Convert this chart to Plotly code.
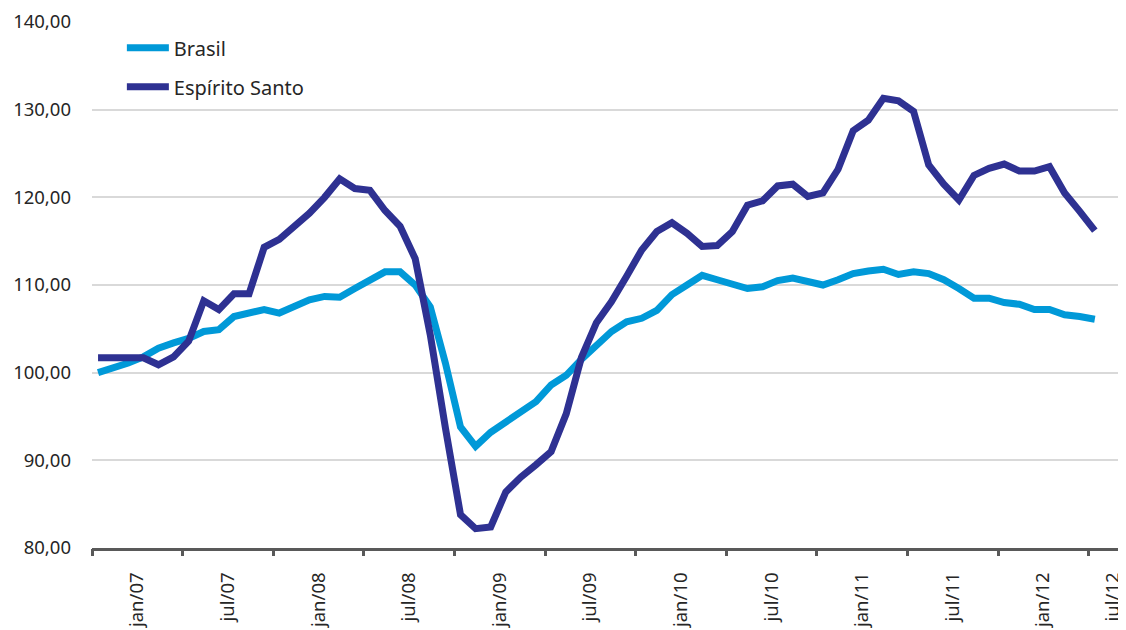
"""Brasil x Espírito Santo (Plotly line chart)."""

import plotly.graph_objects as go


BRASIL = [
    100.0, 100.5, 101.1, 101.8, 102.8, 103.4, 103.9, 104.7, 104.9, 106.4,
    106.8, 107.2, 106.8, 107.5, 108.3, 108.7, 108.6, 109.6, 110.6, 111.5,
    111.5, 110.0, 107.5, 101.1, 93.8, 91.6, 93.2, 94.4, 95.4, 96.7,
    98.6, 99.7, 101.5, 103.0, 104.7, 105.8, 106.2, 107.1, 108.9, 110.0,
    111.1, 110.6, 110.0, 109.6, 109.8, 110.5, 110.8, 110.4, 110.0, 110.6,
    111.3, 111.6, 111.8, 111.2, 111.5, 111.3, 110.6, 109.6, 108.5, 108.5,
    108.0, 107.8, 107.2, 107.2, 106.6, 106.4, 106.1,
]

ESPIRITO_SANTO = [
    101.7, 101.7, 101.7, 101.7, 100.9, 101.8, 103.6, 108.2, 107.2, 109.0,
    109.0, 114.3, 115.2, 116.6, 118.2, 120.0, 122.1, 121.0, 120.8, 118.5,
    116.7, 113.0, 104.3, 93.7, 83.8, 82.2, 82.4, 86.4, 88.1, 89.5,
    91.0, 95.3, 101.7, 105.7, 108.1, 111.0, 114.0, 116.1, 117.1, 115.9,
    114.4, 114.5, 116.1, 119.1, 119.6, 121.3, 121.5, 120.1, 120.5, 123.2,
    127.6, 128.8, 131.3, 131.0, 129.8, 123.7, 121.5, 119.7, 122.5, 123.3,
    123.8, 123.0, 123.0, 123.5, 120.5, 118.4, 116.2,
]

# índice do mês (0 = out/06)
MESES = list(range(len(BRASIL)))

TICK_LABELS = [
    "jan/07", "jul/07", "jan/08", "jul/08", "jan/09", "jul/09",
    "jan/10", "jul/10", "jan/11", "jul/11", "jan/12", "jul/12",
]
TICK_POS = [2.6, 8.6, 14.6, 20.6, 26.6, 32.6, 38.6, 44.6, 50.6, 56.6, 62.6, 67.2]
TICK_MARKS = [6 * k - 0.4 for k in range(12)]

Y_TICKS = [80, 90, 100, 110, 120, 130, 140]

AXIS_COLOR = "#595959"
TEXT_COLOR = "#262626"
FONT = "Noto Sans"

fig = go.Figure()
fig.add_trace(go.Scatter(
    x=MESES, y=BRASIL, name="Brasil", mode="lines",
    line=dict(color="#0099D8", width=7), legendgroup="a",
))
fig.add_trace(go.Scatter(
    x=MESES, y=ESPIRITO_SANTO, name="Espírito Santo", mode="lines",
    line=dict(color="#2E3192", width=7), legendgroup="b",
))

x_range = [-0.4, 67.8]

fig.update_layout(
    width=1126,
    height=630,
    margin=dict(l=84, r=12, t=14, b=90),
    paper_bgcolor="white",
    plot_bgcolor="white",
    font=dict(family=FONT, size=18, color=TEXT_COLOR),
    separators=",.",
    showlegend=True,
    legend=dict(
        x=0.029, y=0.988, xanchor="left", yanchor="top",
        font=dict(size=20, color=TEXT_COLOR),
        bgcolor="rgba(0,0,0,0)",
        traceorder="grouped", tracegroupgap=10,
        itemwidth=42,
    ),
    xaxis=dict(
        range=x_range,
        tickvals=TICK_POS,
        ticktext=TICK_LABELS,
        tickangle=-90,
        ticks="",
        ticklabelstandoff=14,
        showgrid=False,
        zeroline=False,
        showline=True,
        linecolor=AXIS_COLOR,
        linewidth=3,
        automargin=False,
        tickfont=dict(size=18.5, color=TEXT_COLOR),
    ),
    xaxis2=dict(
        range=x_range,
        overlaying="x",
        anchor="y",
        side="bottom",
        tickvals=TICK_MARKS,
        showticklabels=False,
        ticks="outside",
        ticklen=7,
        tickwidth=3,
        tickcolor=AXIS_COLOR,
        showgrid=False,
        zeroline=False,
        showline=False,
    ),
    yaxis=dict(
        range=[80, 140],
        tickvals=Y_TICKS,
        tickformat=".2f",
        ticks="",
        ticklabelstandoff=20,
        showgrid=True,
        gridcolor="#D9D9D9",
        gridwidth=2,
        zeroline=False,
        showline=False,
        automargin=False,
        tickfont=dict(size=18.5, color=TEXT_COLOR),
    ),
)

# traço invisível para ativar o eixo x2 (marcas de divisão)
fig.add_trace(go.Scatter(
    x=[x_range[0]], y=[80], xaxis="x2", mode="markers",
    marker=dict(opacity=0), showlegend=False, hoverinfo="skip",
))

fig.write_html("out.html")
